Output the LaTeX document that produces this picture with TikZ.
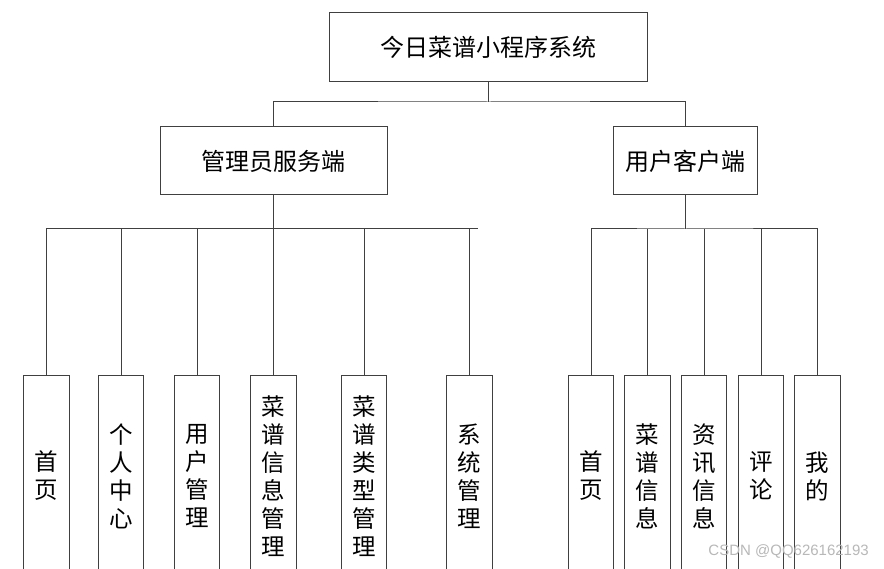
\documentclass[tikz,border=0pt]{standalone}
\usepackage{fontspec}
\newfontfamily\cjk{Noto Sans CJK SC}
\setsansfont{Liberation Sans}
\definecolor{edgegray}{HTML}{404040}
\definecolor{wmgray}{HTML}{B8B8B8}
\begin{document}
\begin{tikzpicture}[x=1pt,y=-1pt,
  box/.style={draw=edgegray,line width=1pt,fill=white,inner sep=0pt,font=\cjk\fontsize{24}{28}\selectfont,text=black},
  leaf/.style={box,minimum width=45.5pt,minimum height=200pt,align=center,font=\cjk\fontsize{23.5}{28}\selectfont},
  link/.style={draw=edgegray,line width=1pt}]
\useasboundingbox (0,0) rectangle (884,569);
\clip (0,0) rectangle (884,569);
\fill[white] (0,0) rectangle (884,569);
% top levels
\node[box,minimum width=317.7pt,minimum height=68.7pt] (top) at (488.8,47.3) {今日菜谱小程序系统};
\node[box,minimum width=227pt,minimum height=68pt] (adm) at (273.5,161) {管理员服务端};
\node[box,minimum width=144pt,minimum height=68pt] (usr) at (685.3,161) {用户客户端};
% leaves
\node[leaf] (a1) at (46.5,476) {首\\页};
\node[leaf] (a2) at (121,476) {个\\人\\中\\心};
\node[leaf] (a3) at (197,476) {用\\户\\管\\理};
\node[leaf] (a4) at (273.3,476) {菜\\谱\\信\\息\\管\\理};
\node[leaf] (a5) at (364,476) {菜\\谱\\类\\型\\管\\理};
\node[leaf] (a6) at (469.5,476) {系\\统\\管\\理};
\node[leaf] (b1) at (591,476) {首\\页};
\node[leaf] (b2) at (647.5,476) {菜\\谱\\信\\息};
\node[leaf] (b3) at (704,476) {资\\讯\\信\\息};
\node[leaf] (b4) at (761,476) {评\\论};
\node[leaf] (b5) at (817.5,476) {我\\的};
% junctions
\coordinate (j1) at (top.south |- 0,102);
\coordinate (j2) at (adm.south |- 0,229);
\coordinate (j3) at (usr.south |- 0,229);
\coordinate (lbend) at (478,229);
% connectors
\draw[link] (top.south) -- (j1);
\draw[link] (adm.north) |- (j1) -| (usr.north);
\draw[link] (adm.south) -- (j2);
\draw[link] (a1.north) |- (lbend);
\foreach \n in {a2,a3,a4,a5,a6} \draw[link] (\n.north) -- (\n.north |- j2);
\draw[link] (usr.south) -- (j3);
\draw[link] (b1.north) |- (j3) -| (b5.north);
\foreach \n in {b2,b3,b4} \draw[link] (\n.north) -- (\n.north |- j3);
% watermark
\node[text=wmgray,font=\sffamily\fontsize{15}{18}\selectfont,anchor=east,inner sep=0pt] (wm) at (869,551) {CSDN @QQ626162193};
\end{tikzpicture}
\end{document}
